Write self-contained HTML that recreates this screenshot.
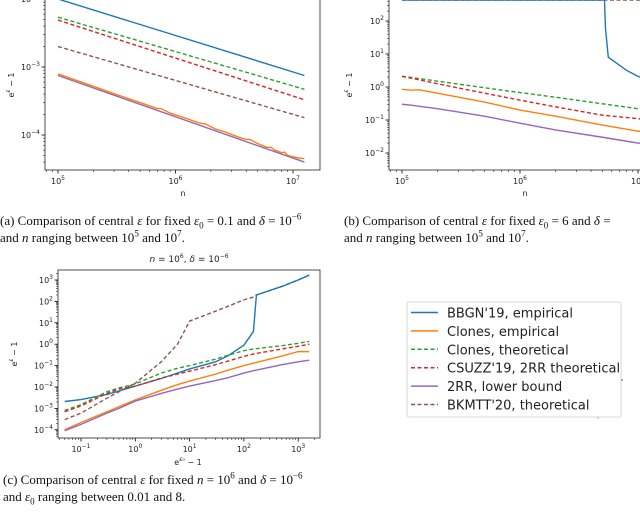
<!DOCTYPE html>
<html><head><meta charset="utf-8">
<style>
body{margin:0;background:#fff;width:640px;height:512px;overflow:hidden;position:relative}
svg{position:absolute;left:0;top:0}
.cap{position:absolute;font-family:"Liberation Serif",serif;font-size:13px;line-height:17px;color:#111;white-space:nowrap}
.cap sup,.cap sub{font-size:9px;line-height:0}
</style></head>
<body>
<svg id="chart" width="640" height="512" viewBox="0 0 640 512" font-family="DejaVu Sans, Liberation Sans, sans-serif"></svg>
<div class="cap" style="left:0;top:212px">(a) Comparison of central <i>ε</i> for fixed <i>ε</i><sub>0</sub> = 0.1 and <i>δ</i> = 10<sup>−6</sup><br>and <i>n</i> ranging between 10<sup>5</sup> and 10<sup>7</sup>.</div>
<div class="cap" style="left:344px;top:212px">(b) Comparison of central <i>ε</i> for fixed <i>ε</i><sub>0</sub> = 6 and <i>δ</i> =<br>and <i>n</i> ranging between 10<sup>5</sup> and 10<sup>7</sup>.</div>
<div class="cap" style="left:3px;top:471px">(c) Comparison of central <i>ε</i> for fixed <i>n</i> = 10<sup>6</sup> and <i>δ</i> = 10<sup>−6</sup><br>and <i>ε</i><sub>0</sub> ranging between 0.01 and 8.</div>
<script>
// ---------- data ----------
const seriesNames=["BBGN'19, empirical","Clones, empirical","Clones, theoretical","CSUZZ'19, 2RR theoretical","2RR, lower bound","BKMTT'20, theoretical"];
// panel a
const aN=[1e5,1.25e7];
const aBlue=[1.0e-2,7.5e-4];
const aGreen=[5.4e-3,4.7e-4];
const aRed=[4.9e-3,3.3e-4];
const aBrown=[2.0e-3,1.8e-4];
const aPurple=[7.5e-4,4.0e-5];
const aOrangeN=[1e5,2e5,3e5,5e5,7e5,7.5e5,9e5,1.2e6,1.6e6,1.8e6,2.2e6,2.6e6,3e6,3.5e6,4e6,4.3e6,5e6,6e6,6.5e6,7e6,8e6,8.5e6,9e6,1e7,1.1e7,1.25e7];
const aOrange=[7.9e-4,5.2e-4,4.05e-4,3.0e-4,2.45e-4,2.45e-4,2.1e-4,1.78e-4,1.5e-4,1.45e-4,1.22e-4,1.12e-4,1.02e-4,9.2e-5,8.6e-5,8.6e-5,7.5e-5,6.6e-5,6.6e-5,6.0e-5,5.5e-5,5.6e-5,5.0e-5,4.8e-5,4.6e-5,4.5e-5];
// panel b
const bN=[1e5,1.2e5,1.4e5,2e5,5e5,1e6,2e6,5e6,1e7,1.25e7];
const bGreen=[2.1,1.95,1.8,1.5,0.95,0.68,0.49,0.31,0.22,0.2];
const bRed=[2.1,1.85,1.65,1.25,0.65,0.4,0.25,0.14,0.11,0.1];
const bOrange=[0.85,0.8,0.82,0.65,0.35,0.2,0.13,0.07,0.046,0.042];
const bPurple=[0.3,0.28,0.26,0.22,0.13,0.08,0.05,0.03,0.02,0.018];
const bBlueN=[1e5,5.2e6,5.3e6,5.6e6,7e6,8e6,1e7,1.25e7];
const bBlue=[430,430,60,8,4.5,3.2,2.1,1.6];
const bBrownN=[1e5,1.25e7];
const bBrown=[430,430];
// panel c
const cX=[0.05,0.1,0.3,0.5,1,3,6,10,30,50,100,150,170,500,1000,1600];
const cBlue=[2.1e-3,2.6e-3,4.5e-3,6.5e-3,1.1e-2,2.5e-2,4.5e-2,7e-2,0.15,0.28,0.9,4,200,500,1000,1700];
const cBrown=[3e-4,6e-4,3e-3,6e-3,1.5e-2,0.15,1,12,35,58,118,160,200,500,1000,1700];
const cGreen=[8e-4,1.5e-3,6e-3,9e-3,1.4e-2,4.5e-2,7.5e-2,0.1,0.2,0.3,0.5,0.6,0.62,0.85,1.1,1.35];
const cRed=[7e-4,1.3e-3,5e-3,8e-3,1.1e-2,2.6e-2,4e-2,5.5e-2,0.11,0.16,0.27,0.35,0.37,0.6,0.8,1.0];
const cOrange=[1e-4,2.2e-4,7e-4,1.2e-3,2.5e-3,7e-3,1.3e-2,1.9e-2,4e-2,6e-2,0.1,0.13,0.14,0.28,0.45,0.45];
const cPurple=[9e-5,1.8e-4,6e-4,1.0e-3,2.2e-3,5e-3,8e-3,1.1e-2,2e-2,2.7e-2,4.5e-2,5.8e-2,6.2e-2,0.11,0.15,0.18];
const aYTicks=[-4,-3,-2], aXTicks=[5,6,7];
const bYTicks=[-2,-1,0,1,2], bXTicks=[5,6,7];
const cYTicks=[-4,-3,-2,-1,0,1,2,3], cXTicks=[-1,0,1,2,3];
// ---------- drawing ----------
const NS="http://www.w3.org/2000/svg";
const svg=document.getElementById('chart');
const colors=['#1f77b4','#ff7f0e','#2ca02c','#d62728','#9467bd','#8c564b'];
function mk(tag,attrs,parent){const e=document.createElementNS(NS,tag);for(const k in attrs)e.setAttribute(k,attrs[k]);(parent||svg).appendChild(e);return e;}
function axes(o){
  const g=mk('g',{});
  
  
  const clipId=o.name+'-clip';
  const cp=mk('clipPath',{id:clipId},g);mk('rect',{x:o.x0,y:o.y0,width:o.x1-o.x0,height:o.y1-o.y0},cp);
  o.sx=v=>o.px0+(Math.log10(v)-o.lx0)*o.dx;
  o.sy=v=>o.py0-(Math.log10(v)-o.ly0)*o.dy;
  o.g=mk('g',{'clip-path':'url(#'+clipId+')'},g);
  for(let d=o.xmin-1;d<=o.xmax+1;d++){for(let m=1;m<10;m++){const v=m*Math.pow(10,d);const x=o.sx(v);if(x<o.x0||x>o.x1)continue;
    mk('line',{x1:x,x2:x,y1:o.y1,y2:o.y1+(m==1?3.5:2),stroke:'#000','stroke-width':m==1?0.8:0.5},g);}}
  for(let d=o.ymin-1;d<=o.ymax+1;d++){for(let m=1;m<10;m++){const v=m*Math.pow(10,d);const y=o.sy(v);if(y<o.y0||y>o.y1)continue;
    mk('line',{x1:o.x0-(m==1?3.5:2),x2:o.x0,y1:y,y2:y,stroke:'#000','stroke-width':m==1?0.8:0.5},g);}}
  o.xt.forEach(d=>{const x=o.sx(Math.pow(10,d));const t=mk('text',{x:x,y:o.y1+14,'font-size':8,'text-anchor':'middle',fill:'#222'},g);
    
    t.appendChild(document.createTextNode('10'));const s=mk('tspan',{dy:-4,'font-size':6},t);s.textContent=String(d).replace('-','−');});
  o.yt.forEach(d=>{const y=o.sy(Math.pow(10,d));const t=mk('text',{x:o.x0-5,y:y+3,'font-size':8,'text-anchor':'end',fill:'#222'},g);
    
    t.appendChild(document.createTextNode('10'));const s=mk('tspan',{dy:-4,'font-size':6},t);s.textContent=String(d).replace('-','−');});
  mk('rect',{x:o.x0,y:o.y0,width:o.x1-o.x0,height:o.y1-o.y0,fill:'none',stroke:'#222','stroke-width':0.8},g);
  return o;
}
function series(o,xs,ys,ci,dash,name){
  const p=xs.map((x,i)=>o.sx(x).toFixed(2)+','+o.sy(ys[i]).toFixed(2)).join(' ');
  const e=mk('polyline',{points:p,fill:'none',stroke:colors[ci],'stroke-width':1.4,'stroke-dasharray':dash?'4,2.5':'none'},o.g);
  
  
}
function label(x,y,html,rot,name,size){const t=mk('text',{x:x,y:y,'font-size':size||8,'text-anchor':'middle',fill:'#222',transform:rot?`rotate(-90 ${x} ${y})`:''});t.innerHTML=html;
  return t;}
const ylab='e<tspan dy="-4" font-size="6" font-style="italic">ε</tspan><tspan dy="4"> − 1</tspan>';
// panel a
const A=axes({name:'plot-a',x0:45,x1:320,y0:-5,y1:170,px0:58,lx0:5,dx:117.5,py0:67,ly0:-3,dy:68,xmin:5,xmax:7,ymin:-5,ymax:-2,xt:aXTicks,yt:aYTicks});
series(A,aN,aBlue,0,false,'a-bbgn-line');
series(A,aN,aGreen,2,true,'a-clones-theory-line');
series(A,aN,aRed,3,true,'a-csuzz-line');
series(A,aN,aBrown,5,true,'a-bkmtt-line');
series(A,aN,aPurple,4,false,'a-2rr-line');
series(A,aOrangeN,aOrange,1,false,'a-clones-empirical-line');
label(183,196,'n',false,'a-x-axis-title');
label(14,85,ylab,true,'a-y-axis-title');
// panel b
const B=axes({name:'plot-b',x0:389,x1:645,y0:-5,y1:170,px0:402,lx0:5,dx:118,py0:87,ly0:0,dy:33,xmin:5,xmax:7,ymin:-3,ymax:3,xt:bXTicks,yt:bYTicks});
series(B,bBrownN,bBrown,5,true,'b-bkmtt-line');
series(B,bBlueN,bBlue,0,false,'b-bbgn-line');
series(B,bN,bGreen,2,true,'b-clones-theory-line');
series(B,bN,bRed,3,true,'b-csuzz-line');
series(B,bN,bOrange,1,false,'b-clones-empirical-line');
series(B,bN,bPurple,4,false,'b-2rr-line');
label(525,196,'n',false,'b-x-axis-title');
label(352,85,ylab,true,'b-y-axis-title');
// panel c
const C=axes({name:'plot-c',x0:58,x1:320,y0:270,y1:438,px0:81,lx0:-1,dx:54.3,py0:280,ly0:3,dy:21.4,xmin:-2,xmax:3,ymin:-5,ymax:3,xt:cXTicks,yt:cYTicks});
series(C,cX,cBrown,5,true,'c-bkmtt-line');
series(C,cX,cBlue,0,false,'c-bbgn-line');
series(C,cX,cGreen,2,true,'c-clones-theory-line');
series(C,cX,cRed,3,true,'c-csuzz-line');
series(C,cX,cOrange,1,false,'c-clones-empirical-line');
series(C,cX,cPurple,4,false,'c-2rr-line');
label(189,262,'<tspan font-style="italic">n</tspan> = 10<tspan dy="-4" font-size="6">6</tspan><tspan dy="4">, </tspan><tspan font-style="italic">δ</tspan> = 10<tspan dy="-4" font-size="6">−6</tspan>',false,'c-title',9);
label(188,465,'e<tspan dy="-4" font-size="6" font-style="italic">ε₀</tspan><tspan dy="4"> − 1</tspan>',false,'c-x-axis-title');
label(17,354,ylab,true,'c-y-axis-title');
// legend
const L=mk('g',{});


mk('rect',{x:407,y:302,width:214,height:115,rx:2,fill:'#fff',stroke:'#ccc','stroke-width':0.8},L);
seriesNames.forEach((n,i)=>{const y=312.5+i*18.4;
  const ln=mk('line',{x1:411,x2:438,y1:y,y2:y,stroke:colors[i],'stroke-width':1.5,'stroke-dasharray':(i==2||i==3||i==5)?'4,2.5':'none'},L);
  
  const t=mk('text',{x:447,y:y+5,'font-size':13,fill:'#222'},L);t.textContent=n;
  });
mk('circle',{cx:622,cy:380,r:0.8,fill:'#8c564b'});
mk('circle',{cx:598,cy:418,r:0.7,fill:'#999'});
</script>
</body></html>
